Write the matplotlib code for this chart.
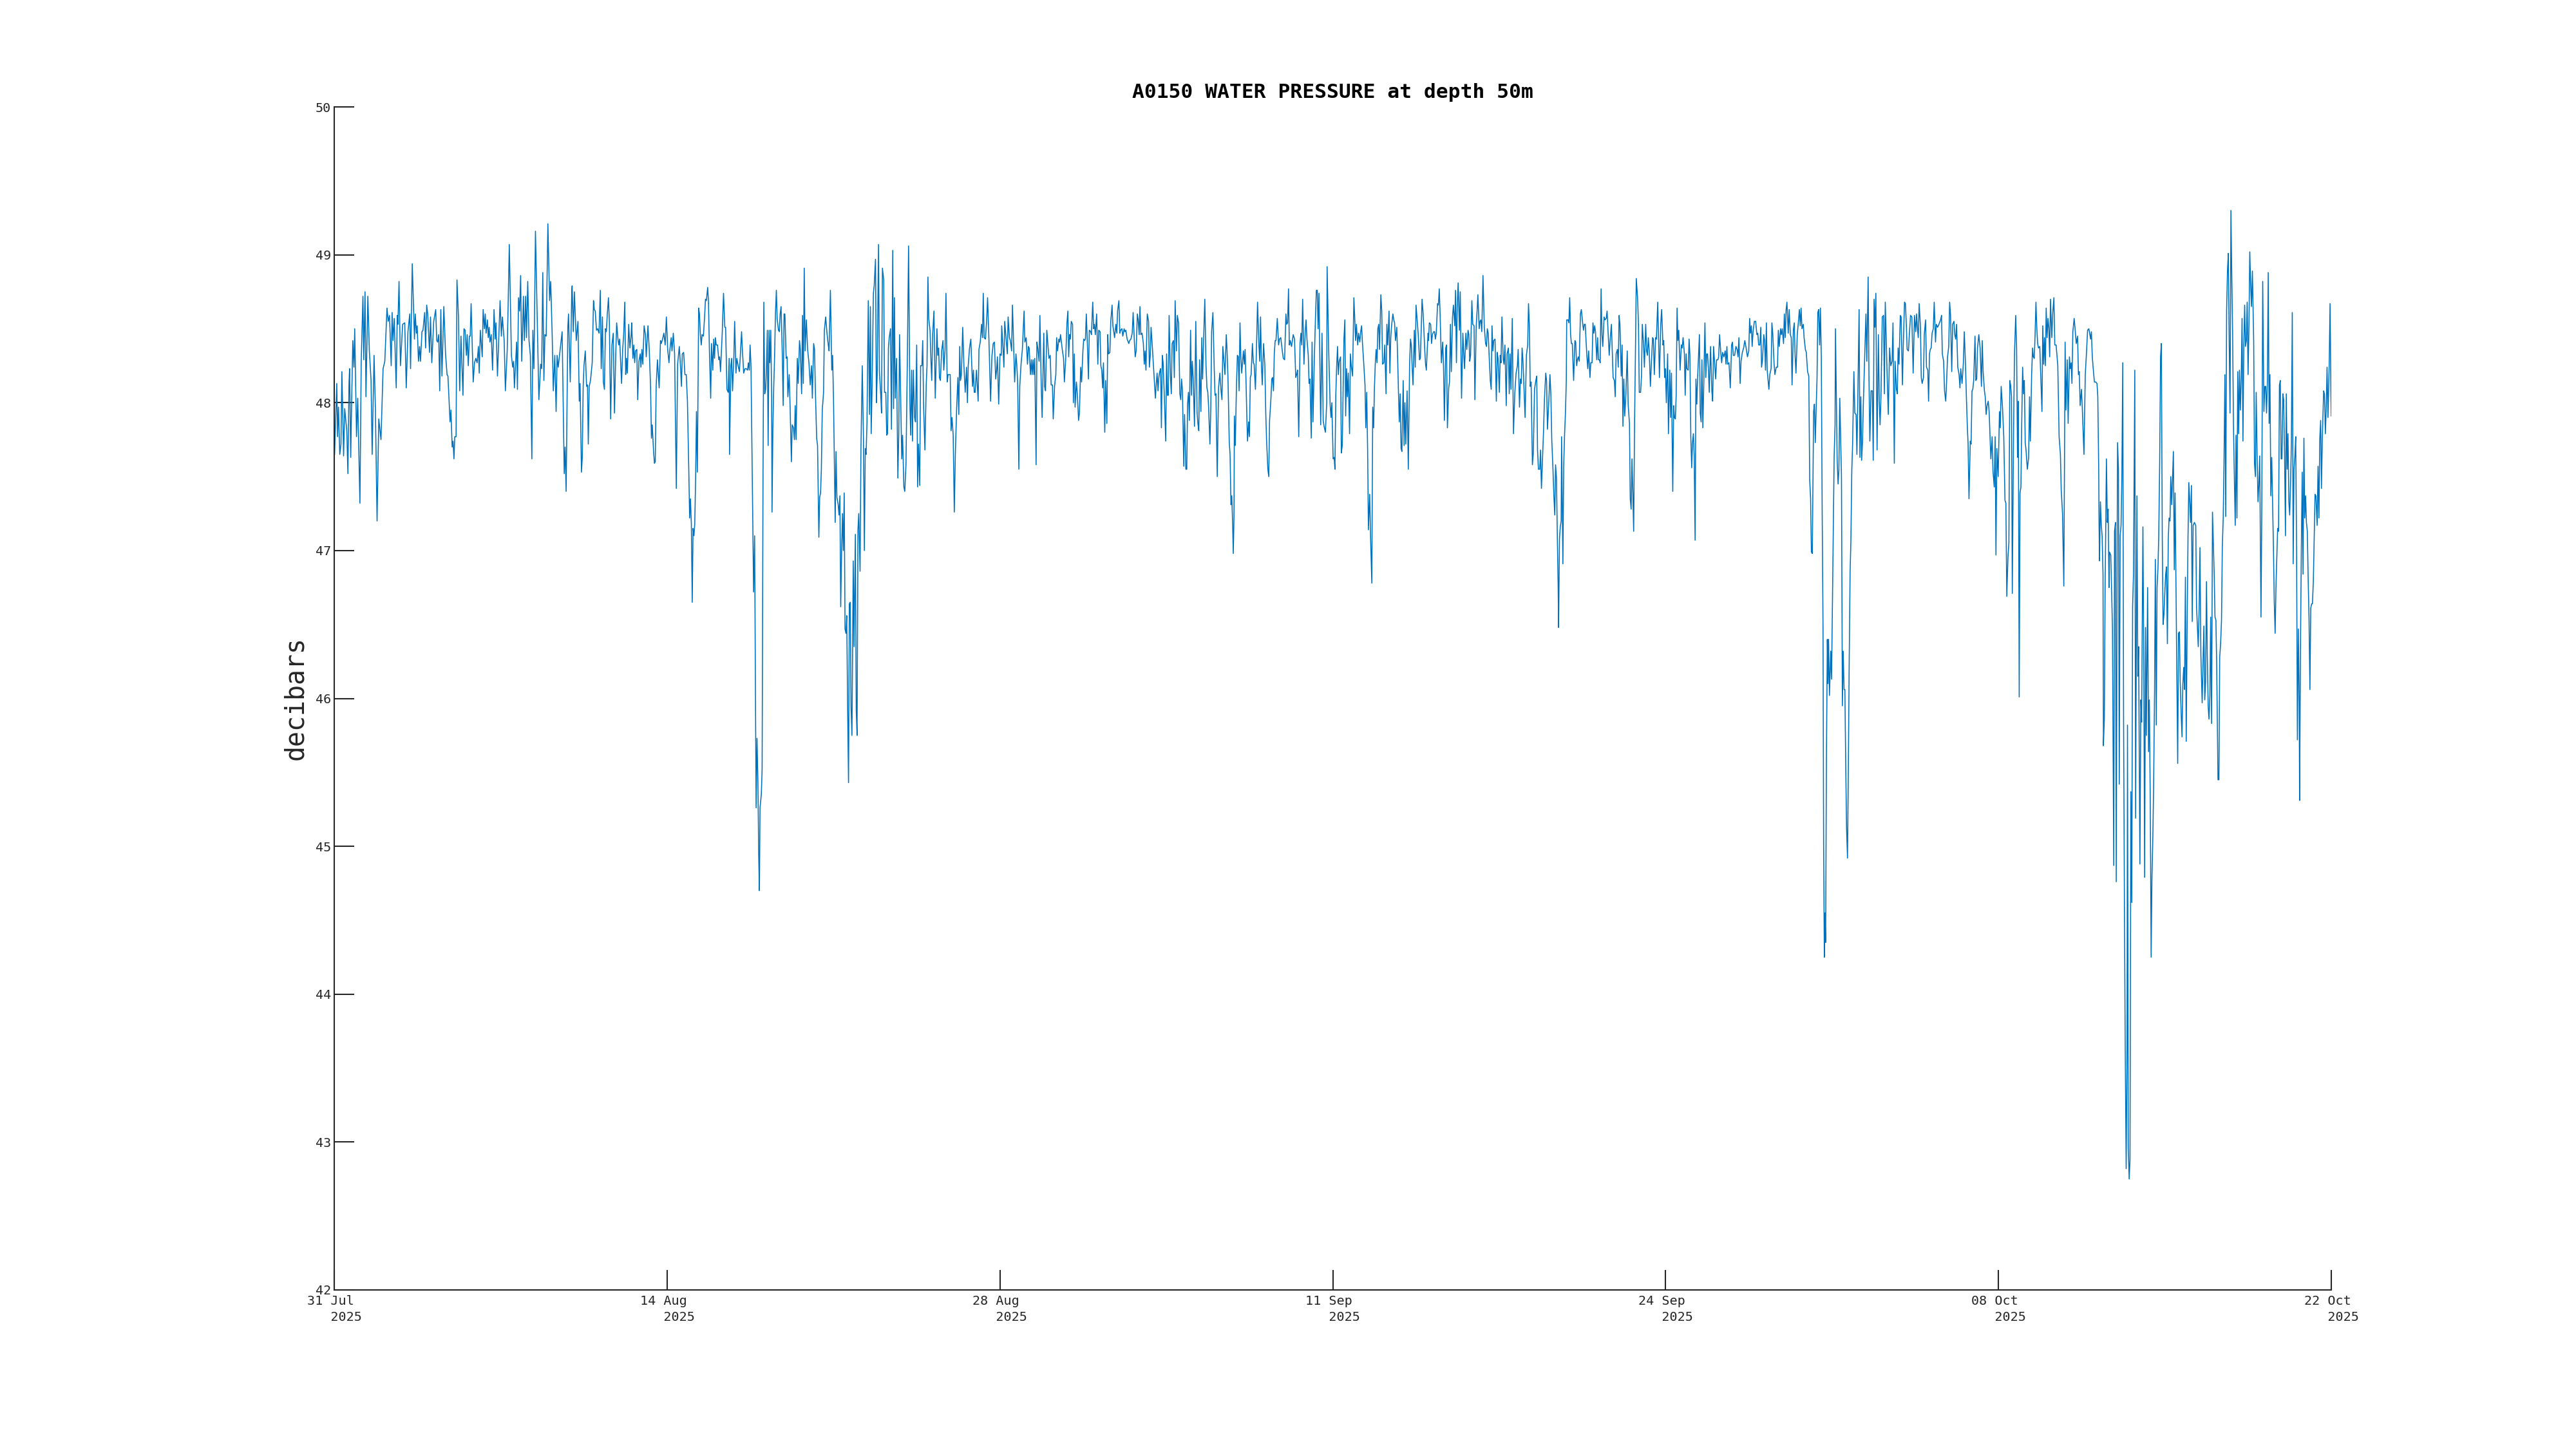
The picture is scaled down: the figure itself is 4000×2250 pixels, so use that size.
import matplotlib.pyplot as plt
import numpy as np

plt.rcParams['font.family'] = 'DejaVu Sans Mono'

title = 'A0150 WATER PRESSURE at depth 50m'
y_label = 'decibars'
tick_dates = ['31 Jul', '14 Aug', '28 Aug', '11 Sep', '24 Sep', '08 Oct', '22 Oct']
tick_year = '2025'
span_hours = 83 * 24          # 31 Jul 00:00 -> 22 Oct 00:00
y_ticks = [42, 43, 44, 45, 46, 47, 48, 49, 50]

# (hours since 31 Jul 2025 00:00, pressure in decibars)
seg_jul31_aug10 = [
    (0.2, 47.65), (2.4, 48.13), (3.2, 47.77), (4.1, 47.97), (5.4, 47.65), (6.6, 47.72), (7.5, 48.21), (9.2, 47.64),
    (10.3, 47.96), (12.4, 47.81), (13.5, 47.52), (14.6, 48.13), (15.2, 48.23), (16.3, 47.63), (17.3, 48.03), (18.4, 48.42),
    (19.5, 48.24), (20.3, 48.50), (22.1, 47.77), (23.3, 48.03), (25.5, 47.32), (26.8, 48.28), (28.5, 48.72), (29.3, 48.29),
    (30.6, 48.75), (31.5, 48.04), (33.4, 48.72), (34.9, 48.35), (36.6, 48.15), (37.7, 47.65), (39.6, 48.32), (40.9, 47.97),
    (42.6, 47.20), (44.3, 47.89), (46.5, 47.75), (48.6, 48.23), (50.3, 48.28), (52.5, 48.64), (53.7, 48.55), (55.0, 48.59),
    (56.7, 48.25), (57.6, 48.61), (58.5, 48.42), (59.7, 48.57), (61.7, 48.10), (62.7, 48.59), (63.4, 48.53), (64.5, 48.82),
    (65.9, 48.25), (68.1, 48.53), (70.2, 48.54), (71.7, 48.10), (73.4, 48.48), (75.2, 48.60), (76.0, 48.23), (77.7, 48.94),
    (79.9, 48.43), (80.7, 48.60), (81.8, 48.47), (82.6, 48.52), (83.9, 48.28), (85.0, 48.38), (85.9, 48.28), (87.4, 48.48),
    (88.4, 48.49), (90.1, 48.61), (91.0, 48.37), (92.1, 48.66), (93.1, 48.60), (94.9, 48.34), (95.9, 48.58), (97.2, 48.27),
    (99.1, 48.55), (101.1, 48.63), (102.1, 48.42), (103.0, 48.41), (104.1, 48.46), (105.1, 48.08), (106.2, 48.63), (107.3, 48.18),
    (109.2, 48.65), (110.9, 48.33), (112.4, 48.19), (113.3, 48.18), (115.4, 47.87), (116.3, 47.95), (117.5, 47.70), (118.4, 47.74),
    (119.3, 47.62), (120.1, 47.77), (121.4, 47.77), (122.3, 48.83), (123.8, 48.58), (125.0, 48.08), (126.3, 48.45), (128.3, 48.05),
    (129.3, 48.50), (130.4, 48.49), (131.7, 48.32), (132.5, 48.46), (133.6, 48.25), (134.7, 48.45), (135.5, 48.45), (136.4, 48.67),
    (138.5, 48.14), (139.8, 48.27), (141.1, 48.30), (142.4, 48.27), (143.7, 48.38), (144.5, 48.20), (145.6, 48.49), (147.5, 48.31),
    (148.4, 48.63), (149.7, 48.50), (150.5, 48.60), (151.4, 48.47), (152.7, 48.56), (153.5, 48.44), (154.4, 48.51), (155.2, 48.41),
    (156.5, 48.46), (157.8, 48.22), (159.3, 48.63), (160.4, 48.43), (161.2, 48.54), (162.7, 48.18), (165.3, 48.69), (166.6, 48.45),
    (167.6, 48.58), (169.4, 48.42), (170.6, 48.08), (172.4, 48.35), (173.2, 48.61), (174.5, 49.07), (176.6, 48.32), (177.9, 48.24),
    (178.8, 48.28), (179.6, 48.10), (181.8, 48.41), (182.6, 48.09), (183.7, 48.71), (184.8, 48.62), (185.8, 48.86), (186.9, 48.28),
    (188.6, 48.72), (189.5, 48.42), (190.8, 48.72), (191.6, 48.44), (192.9, 48.82), (194.2, 48.42), (195.5, 48.32), (197.0, 47.62),
    (198.0, 48.49), (199.1, 48.23), (200.6, 49.16), (202.3, 48.58), (204.0, 48.02), (205.8, 48.26), (206.8, 48.23), (207.9, 48.88),
    (209.0, 48.15), (210.0, 48.46), (211.3, 48.45), (213.0, 49.21), (214.7, 48.69), (215.8, 48.82), (217.3, 48.45), (218.4, 48.08),
    (219.9, 48.32), (221.2, 47.94), (222.2, 48.32), (223.3, 48.24), (224.6, 48.32), (227.2, 48.48), (229.3, 47.52), (230.2, 47.70),
    (231.2, 47.40), (232.9, 48.51), (233.6, 48.60), (235.3, 48.14), (236.8, 48.75), (237.2, 48.79), (238.3, 48.48), (239.4, 48.75),
    (241.3, 48.42), (243.0, 48.55), (244.3, 48.01), (245.1, 48.13),
]

seg_aug10_aug21 = [
    (246.5, 47.53), (247.3, 47.63), (248.2, 48.11), (249.0, 48.25), (250.3, 48.35), (251.6, 48.11), (252.5, 48.12), (253.3, 47.72),
    (254.2, 48.11), (255.5, 48.15), (257.2, 48.27), (258.5, 48.69), (259.3, 48.63), (260.2, 48.62), (261.5, 48.49), (262.7, 48.50),
    (264.0, 48.47), (265.3, 48.76), (266.2, 48.23), (267.4, 48.58), (268.3, 48.14), (269.4, 48.09), (270.4, 48.50), (271.3, 48.48),
    (272.2, 48.59), (273.4, 48.71), (274.3, 48.55), (275.6, 47.89), (276.9, 48.39), (278.2, 48.47), (279.4, 47.93), (280.7, 48.33),
    (281.6, 48.54), (282.9, 48.43), (283.7, 48.39), (284.6, 48.43), (286.5, 48.13), (287.6, 48.36), (288.6, 48.46), (289.7, 48.68),
    (290.6, 48.19), (291.4, 48.30), (292.3, 48.20), (293.6, 48.53), (294.8, 48.37), (296.1, 48.46), (296.6, 48.54), (297.8, 48.30),
    (298.7, 48.39), (299.6, 48.27), (300.4, 48.35), (301.7, 48.36), (302.6, 48.02), (303.8, 48.28), (305.1, 48.33), (305.8, 48.24),
    (306.8, 48.36), (307.7, 48.26), (309.0, 48.52), (310.3, 48.46), (311.1, 48.31), (312.8, 48.52), (314.1, 48.36), (315.4, 48.11),
    (316.3, 47.76), (317.1, 47.85), (318.4, 47.67), (319.3, 47.59), (320.1, 47.60), (321.0, 48.11), (322.3, 48.29), (324.0, 48.10),
    (325.3, 48.42), (326.1, 48.40), (327.4, 48.43), (328.7, 48.47), (330.0, 48.39), (331.2, 48.58), (332.5, 48.36), (333.8, 48.27),
    (334.7, 48.36), (336.0, 48.44), (336.8, 48.35), (338.1, 48.47), (339.4, 48.33), (341.1, 47.42), (342.4, 48.26), (344.1, 48.38),
    (345.4, 48.23), (346.2, 48.11), (347.1, 48.33), (348.4, 48.34), (349.7, 48.19), (351.0, 48.19), (352.2, 48.01), (353.5, 47.56),
    (354.4, 47.22), (355.2, 47.35), (356.1, 47.18), (357.0, 46.65), (357.8, 47.15), (358.7, 47.10), (359.5, 47.18), (360.4, 47.50),
    (361.2, 47.94), (362.1, 47.53), (363.4, 48.64), (364.2, 48.60), (365.1, 48.46), (366.0, 48.39), (366.8, 48.46), (368.1, 48.45),
    (369.4, 48.59), (370.2, 48.70), (371.1, 48.69), (372.4, 48.78), (373.2, 48.68), (374.1, 48.36), (375.4, 48.03), (376.2, 48.40),
    (377.5, 48.22), (378.4, 48.43), (379.2, 48.30), (380.1, 48.44), (380.9, 48.39), (382.2, 48.39), (383.5, 48.29), (384.3, 48.31),
    (385.2, 48.21), (386.9, 48.47), (388.2, 48.74), (389.5, 48.51), (390.3, 48.51), (391.6, 48.09), (392.9, 48.07), (393.8, 48.30),
    (394.2, 47.65), (395.5, 48.25), (396.3, 48.30), (397.2, 48.08), (398.5, 48.31), (399.3, 48.55), (400.6, 48.20), (401.5, 48.30),
    (402.8, 48.25), (404.0, 48.21), (404.9, 48.31), (406.2, 48.48), (407.0, 48.36), (408.3, 48.20), (409.6, 48.23), (410.9, 48.23),
    (412.2, 48.22), (413.0, 48.27), (413.9, 48.22), (414.7, 48.39), (415.6, 48.25), (416.9, 47.50), (418.2, 46.72), (419.2, 47.10),
    (419.9, 46.22), (420.7, 45.26), (421.6, 45.73), (422.5, 45.44), (423.3, 44.94), (424.0, 44.70), (424.6, 45.26), (425.9, 45.35),
    (426.7, 45.52), (427.6, 47.50), (428.4, 48.68), (429.3, 48.06), (430.2, 48.09), (431.0, 48.22), (431.9, 48.49), (432.7, 47.71),
    (433.6, 48.49), (434.4, 48.27), (435.3, 48.49), (436.2, 48.04), (436.6, 47.26), (437.4, 47.82), (438.3, 48.11), (439.1, 48.30),
    (440.0, 48.60), (440.9, 48.76), (441.7, 48.57), (443.0, 48.49), (443.9, 48.48), (444.7, 48.60), (445.6, 48.65), (446.9, 48.31),
    (447.7, 47.98), (448.6, 48.60), (449.4, 48.60), (450.7, 48.30), (451.6, 48.31), (452.4, 48.04), (453.7, 48.19), (454.6, 47.98),
    (455.9, 47.60), (456.7, 47.85), (458.0, 47.83), (458.9, 47.75), (459.7, 47.98), (460.6, 47.75), (461.8, 48.30), (462.7, 48.13),
    (464.0, 48.42), (464.8, 48.36), (466.1, 48.06), (467.0, 48.59), (467.8, 48.13), (468.7, 48.91), (469.6, 48.35), (470.8, 48.56),
    (472.1, 48.36), (473.4, 48.27), (474.7, 48.12), (476.0, 48.25), (476.8, 48.03), (478.1, 48.40), (479.0, 48.36), (479.8, 48.09),
    (481.1, 47.76), (482.0, 47.71), (483.3, 47.09), (484.1, 47.36), (485.0, 47.39), (485.8, 47.55), (486.7, 47.95), (488.0, 48.07),
    (488.8, 48.49), (490.1, 48.58), (491.4, 48.47), (492.7, 48.39), (493.5, 48.35), (494.8, 48.76),
]

seg_aug21_aug31 = [
    (496.2, 48.22), (497.0, 48.32), (497.9, 48.03), (498.7, 47.64), (499.6, 47.19), (500.4, 47.67), (501.3, 47.36), (502.6, 47.31),
    (503.4, 47.24), (504.3, 47.37), (505.1, 46.62), (506.0, 47.00), (506.9, 47.25), (507.7, 47.00), (508.6, 47.39), (509.4, 46.47),
    (510.3, 46.44), (511.1, 46.56), (512.0, 45.94), (512.9, 45.43), (513.7, 46.64), (514.6, 46.65), (515.4, 45.94), (516.3, 45.75),
    (517.6, 46.93), (518.4, 46.35), (519.7, 47.11), (520.6, 45.92), (521.4, 45.75), (522.3, 47.14), (523.1, 47.25), (524.4, 46.86),
    (525.3, 47.69), (526.6, 48.25), (527.8, 47.75), (528.7, 47.00), (529.6, 47.69), (530.4, 47.65), (531.3, 47.86), (532.6, 48.69),
    (533.8, 47.92), (534.7, 48.65), (535.5, 47.79), (536.4, 48.11), (537.7, 48.74), (538.5, 48.79), (539.8, 48.97), (540.7, 48.00),
    (541.5, 48.19), (542.8, 49.07), (543.7, 48.21), (545.0, 48.06), (545.8, 47.93), (546.7, 48.91), (548.0, 48.83), (548.8, 48.07),
    (550.1, 48.07), (551.0, 47.78), (551.8, 47.79), (552.7, 48.37), (553.5, 48.44), (554.8, 48.50), (555.7, 47.82), (557.0, 49.03),
    (557.8, 47.96), (558.7, 48.71), (559.5, 48.03), (560.8, 48.30), (562.1, 47.49), (563.0, 47.79), (563.8, 48.46), (566.0, 47.62),
    (566.8, 47.78), (568.1, 47.43), (569.0, 47.40), (570.2, 47.58), (571.5, 48.25), (572.8, 49.06), (574.1, 48.00), (574.9, 47.78),
    (575.8, 48.22), (576.7, 47.74), (577.5, 48.22), (578.8, 47.90), (579.7, 47.87), (580.9, 48.39), (581.8, 47.43), (582.7, 47.72),
    (583.9, 47.44), (584.8, 48.25), (586.1, 48.25), (586.9, 48.42), (587.8, 47.97), (589.1, 47.68), (590.4, 48.12), (591.2, 48.25),
    (592.1, 48.85), (592.9, 48.57), (594.2, 48.49), (595.1, 48.29), (595.9, 48.15), (596.8, 48.46), (598.1, 48.62), (599.4, 48.03),
    (600.2, 48.25), (601.1, 48.50), (601.9, 48.32), (602.8, 48.37), (603.6, 48.17), (604.5, 48.15), (605.8, 48.35), (607.1, 48.42),
    (607.9, 48.22), (609.2, 48.36), (610.1, 48.74), (611.3, 48.14), (612.2, 48.19), (613.5, 48.19), (614.3, 48.19), (615.2, 47.81),
    (616.1, 47.90), (617.3, 47.78), (618.4, 47.26), (619.5, 47.67), (620.8, 47.97), (622.0, 48.17), (622.9, 47.92), (623.8, 48.38),
    (624.6, 48.15), (625.5, 48.19), (626.8, 48.51), (628.0, 48.25), (629.3, 48.07), (630.6, 48.24), (631.5, 48.00), (632.3, 48.25),
    (633.6, 48.37), (634.9, 48.43), (635.7, 48.28), (636.6, 48.11), (637.5, 48.22), (638.3, 48.07), (639.2, 48.07), (640.5, 48.22),
    (642.2, 48.01), (643.0, 48.36), (644.3, 48.41), (645.6, 48.53), (646.5, 48.44), (647.3, 48.74), (648.2, 48.44), (649.5, 48.43),
    (650.7, 48.56), (651.6, 48.71), (652.9, 48.44), (654.6, 48.01), (655.9, 48.31), (657.2, 48.40), (658.4, 48.41), (659.7, 48.16),
    (660.6, 48.22), (661.4, 48.31), (662.7, 47.99), (664.0, 48.33), (665.3, 48.32), (665.7, 48.52), (667.0, 48.37), (667.9, 48.24),
    (668.7, 48.55), (670.0, 48.44), (671.3, 48.33), (672.1, 48.58), (673.4, 48.44), (674.3, 48.42), (675.6, 48.35), (676.4, 48.66),
    (677.3, 48.46), (678.6, 48.14), (679.9, 48.33), (680.7, 48.26), (681.6, 48.14), (682.8, 47.55), (683.7, 48.11), (685.0, 48.26),
    (686.3, 48.36), (688.0, 48.62), (688.8, 48.41), (690.1, 48.44), (691.4, 48.26), (692.3, 48.38), (693.1, 48.37), (694.4, 48.19),
    (695.3, 48.29), (696.1, 48.19), (697.0, 48.29), (697.8, 48.19), (698.7, 48.30), (700.0, 47.58), (700.8, 48.41), (701.7, 48.37),
    (703.0, 48.28), (703.8, 48.59), (705.1, 48.13), (706.0, 47.90), (707.7, 48.47), (708.5, 48.11), (709.4, 48.08), (710.7, 48.49),
    (711.5, 48.42), (712.8, 48.30), (714.1, 48.32), (715.0, 48.12), (716.3, 48.12), (717.1, 47.89), (718.4, 48.11), (719.7, 48.19),
    (720.5, 48.44), (721.4, 48.35), (722.7, 48.43), (723.5, 48.41), (724.4, 48.46), (726.1, 48.36), (727.4, 48.30), (728.2, 48.14),
    (729.5, 48.29), (730.8, 48.54), (731.7, 48.62), (732.5, 48.31), (733.4, 48.46), (734.2, 48.43), (735.1, 48.55), (736.4, 48.53),
    (737.2, 48.00), (738.1, 48.33), (738.9, 47.97), (740.2, 48.14), (741.1, 48.06), (742.4, 47.88), (743.2, 47.93), (744.5, 48.24),
    (745.4, 48.14),
]

seg_aug31_sep11 = [
    (746.7, 48.35), (747.5, 48.43), (748.4, 48.42), (749.2, 48.43), (750.1, 48.60), (751.4, 48.35), (752.2, 48.16), (753.1, 48.49),
    (754.4, 48.48), (755.2, 48.46), (756.5, 48.68), (757.4, 48.50), (758.2, 48.53), (759.1, 48.46), (760.4, 48.60), (761.6, 48.26),
    (762.5, 48.49), (763.8, 48.48), (764.6, 48.25), (765.5, 48.22), (766.4, 48.10), (767.2, 48.27), (768.5, 47.80), (769.4, 48.15),
    (770.6, 47.86), (771.5, 48.46), (772.3, 48.33), (773.6, 48.34), (774.5, 48.55), (775.8, 48.66), (776.6, 48.52), (777.5, 48.48),
    (778.3, 48.44), (779.6, 48.53), (780.5, 48.47), (781.3, 48.62), (782.6, 48.69), (783.5, 48.47), (784.3, 48.49), (785.6, 48.50),
    (786.5, 48.45), (787.8, 48.50), (788.6, 48.48), (789.5, 48.49), (790.8, 48.43), (792.5, 48.40), (793.3, 48.42), (794.6, 48.43),
    (795.9, 48.47), (796.8, 48.61), (798.0, 48.42), (798.9, 48.31), (799.8, 48.35), (801.0, 48.60), (801.9, 48.56), (802.8, 48.46),
    (803.6, 48.65), (804.5, 48.46), (805.7, 48.47), (807.0, 48.40), (807.9, 48.26), (808.7, 48.35), (809.6, 48.22), (810.9, 48.60),
    (812.2, 48.55), (813.0, 48.24), (813.9, 48.32), (814.7, 48.51), (816.0, 48.37), (817.3, 48.22), (819.0, 48.03), (819.9, 48.13),
    (820.7, 48.20), (821.6, 48.08), (822.4, 48.17), (823.3, 48.21), (824.2, 48.23), (825.0, 47.83), (825.9, 48.32), (826.7, 48.27),
    (828.0, 48.03), (829.3, 47.74), (830.2, 48.33), (831.0, 48.05), (831.9, 48.05), (832.7, 48.59), (834.0, 48.18), (834.9, 48.06),
    (835.7, 48.40), (837.0, 48.42), (837.9, 48.17), (838.7, 48.69), (840.0, 48.35), (840.9, 48.59), (842.1, 48.54), (843.4, 48.06),
    (844.3, 48.02), (845.1, 48.16), (846.0, 48.08), (847.3, 47.57), (848.1, 47.92), (849.4, 47.55), (850.3, 47.55), (851.1, 47.99),
    (852.0, 48.07), (852.9, 47.88), (854.1, 48.49), (855.0, 48.05), (855.8, 48.28), (856.7, 48.17), (858.0, 47.84), (859.3, 48.55),
    (860.6, 47.93), (861.4, 47.86), (862.3, 47.81), (863.1, 48.29), (864.4, 47.94), (865.3, 48.44), (866.1, 48.16), (867.0, 48.40),
    (868.3, 48.70), (869.5, 48.25), (870.4, 48.10), (871.3, 48.07), (872.1, 47.97), (873.4, 47.72), (874.3, 47.97), (875.1, 48.48),
    (876.4, 48.61), (877.7, 48.23), (878.5, 48.05), (879.4, 48.06), (880.7, 47.50), (882.0, 48.10), (883.3, 48.20), (884.5, 48.08),
    (885.4, 48.02), (886.3, 48.38), (887.5, 48.27), (888.4, 48.19), (889.7, 48.46), (890.5, 48.35), (891.4, 48.17), (892.7, 47.73),
    (893.5, 47.65), (894.4, 47.31), (895.2, 47.37), (896.1, 47.17), (896.7, 46.98), (897.4, 47.23), (897.8, 47.91), (898.7, 47.71),
    (899.9, 48.12), (900.8, 48.32), (901.7, 48.31), (902.5, 48.08), (903.4, 48.54), (904.2, 48.32), (905.1, 48.20), (906.0, 48.28),
    (906.8, 48.35), (907.7, 48.26), (908.5, 48.36), (909.4, 48.15), (910.2, 47.91), (910.9, 47.74), (912.0, 47.87), (912.8, 47.77),
    (913.7, 48.17), (914.5, 48.19), (915.8, 48.40), (916.7, 48.27), (917.5, 48.26), (918.8, 48.09), (920.1, 48.44), (920.9, 48.68),
    (922.2, 48.40), (923.1, 48.28), (923.9, 48.58), (924.8, 48.25), (925.6, 48.12), (926.9, 48.40), (928.2, 48.25), (929.1, 47.93),
    (929.9, 47.75), (931.2, 47.55), (932.1, 47.50), (932.9, 47.88), (934.2, 48.02), (935.1, 48.16), (935.9, 48.17), (936.8, 48.08),
    (937.6, 48.33), (938.5, 48.42), (939.3, 48.42), (940.6, 48.57), (941.9, 48.39), (942.8, 48.43), (944.1, 48.44), (944.9, 48.39),
    (945.8, 48.34), (946.6, 48.30), (947.9, 48.29), (949.2, 48.60), (950.0, 48.53), (950.9, 48.54), (951.8, 48.77), (952.6, 48.39),
    (953.5, 48.42), (954.8, 48.38), (956.5, 48.46), (957.8, 48.43), (959.0, 48.17), (959.9, 48.19), (960.8, 48.22), (962.0, 47.77),
    (963.3, 48.40), (964.2, 48.47), (965.0, 48.39), (965.9, 48.70), (967.2, 48.26), (968.5, 48.48), (969.3, 48.56), (970.2, 48.43),
    (971.5, 48.32), (972.3, 48.13), (973.2, 48.16), (974.5, 47.76), (975.3, 48.41), (976.2, 47.87), (977.5, 48.28), (978.7, 48.58),
    (979.6, 48.76), (980.5, 48.76), (981.3, 48.50), (982.2, 48.74), (983.9, 47.85), (985.2, 48.47), (986.4, 47.88), (987.3, 47.84),
    (988.6, 47.80), (989.9, 48.00), (990.3, 48.92), (992.0, 48.32), (993.3, 47.99), (994.2, 47.90), (995.0, 48.00), (996.3, 47.62),
]

seg_sep11_sep21 = [
    (997.3, 47.63), (998.1, 47.55), (999.0, 48.06), (999.8, 48.24), (1000.7, 48.38), (1001.5, 48.19), (1002.4, 48.28), (1003.7, 48.31),
    (1004.5, 47.66), (1005.4, 47.71), (1006.2, 48.06), (1007.1, 48.43), (1008.0, 48.56), (1008.8, 47.91), (1009.7, 48.23), (1010.5, 48.04),
    (1011.4, 48.20), (1012.7, 47.79), (1013.5, 48.33), (1014.4, 48.25), (1015.7, 48.18), (1017.0, 48.71), (1017.8, 48.58), (1018.7, 48.42),
    (1019.5, 48.53), (1020.8, 48.39), (1021.7, 48.47), (1022.9, 48.41), (1023.8, 48.48), (1024.7, 48.52), (1025.5, 48.41), (1026.8, 48.27),
    (1028.1, 48.12), (1028.9, 47.83), (1029.8, 48.07), (1030.7, 47.69), (1031.5, 47.14), (1032.8, 47.38), (1033.7, 47.08), (1034.9, 46.78),
    (1035.8, 47.97), (1036.7, 47.83), (1037.5, 48.10), (1038.4, 48.27), (1039.2, 48.36), (1040.1, 48.27), (1040.9, 48.50), (1041.8, 48.53),
    (1042.6, 48.36), (1043.9, 48.73), (1044.8, 48.62), (1045.6, 48.26), (1046.9, 48.27), (1047.8, 48.39), (1049.1, 48.06), (1049.9, 48.53),
    (1050.8, 48.39), (1052.1, 48.62), (1052.9, 48.20), (1053.8, 48.44), (1054.6, 48.52), (1055.9, 48.60), (1056.8, 48.56), (1057.6, 48.54),
    (1058.5, 48.42), (1059.8, 48.51), (1060.7, 48.29), (1061.5, 48.07), (1062.3, 47.87), (1063.2, 48.06), (1064.1, 47.69), (1064.9, 47.67),
    (1066.2, 48.15), (1067.1, 47.71), (1067.9, 48.00), (1068.8, 47.72), (1070.1, 48.08), (1071.3, 47.55), (1072.6, 48.27), (1073.5, 48.43),
    (1074.3, 48.39), (1075.2, 48.23), (1076.0, 48.12), (1077.3, 48.49), (1078.2, 48.24), (1079.0, 48.66), (1080.3, 48.54), (1081.2, 48.46),
    (1082.5, 48.29), (1083.3, 48.30), (1084.2, 48.50), (1085.0, 48.70), (1085.9, 48.62), (1086.8, 48.50), (1087.6, 48.37), (1088.5, 48.26),
    (1089.3, 48.22), (1090.2, 48.36), (1091.0, 48.47), (1091.5, 48.42), (1092.3, 48.54), (1093.6, 48.53), (1094.5, 48.40), (1095.3, 48.46),
    (1096.6, 48.48), (1097.5, 48.48), (1098.3, 48.43), (1099.2, 48.47), (1100.5, 48.67), (1101.3, 48.66), (1102.2, 48.77), (1103.0, 48.60),
    (1104.3, 48.27), (1105.6, 48.41), (1106.4, 48.25), (1107.3, 47.88), (1108.6, 48.37), (1109.4, 48.39), (1110.3, 47.83), (1111.6, 48.10),
    (1112.4, 48.14), (1113.3, 48.53), (1114.2, 48.21), (1115.4, 48.58), (1116.3, 48.66), (1117.6, 48.52), (1118.4, 48.76), (1119.3, 48.27),
    (1120.1, 48.65), (1121.0, 48.81), (1122.3, 48.49), (1123.1, 48.75), (1124.4, 48.03), (1125.7, 48.47), (1126.6, 48.33), (1127.4, 48.23),
    (1128.7, 48.47), (1129.6, 48.36), (1130.9, 48.49), (1131.7, 48.46), (1132.6, 48.28), (1133.4, 48.32), (1134.7, 48.69), (1135.6, 48.53),
    (1136.9, 48.52), (1137.7, 48.02), (1139.0, 48.51), (1139.9, 48.62), (1140.7, 48.73), (1142.0, 48.50), (1142.8, 48.55), (1143.7, 48.56),
    (1144.6, 48.48), (1145.8, 48.86), (1147.1, 48.51), (1148.4, 48.40), (1149.3, 48.38), (1150.1, 48.50), (1151.0, 48.47), (1152.3, 48.26),
    (1153.1, 48.15), (1154.0, 48.09), (1154.8, 48.52), (1155.7, 48.35), (1156.5, 48.42), (1157.8, 48.43), (1159.1, 48.01), (1160.0, 48.34),
    (1160.8, 48.30), (1162.1, 48.07), (1163.0, 48.32), (1163.8, 48.27), (1164.7, 48.58), (1166.0, 48.29), (1166.8, 48.26), (1167.7, 48.39),
    (1169.0, 47.98), (1169.8, 48.33), (1171.1, 48.37), (1172.0, 48.06), (1172.8, 48.33), (1173.7, 48.09), (1175.0, 48.57), (1176.2, 47.79),
    (1177.5, 48.06), (1178.8, 48.20), (1180.1, 48.25), (1180.9, 48.36), (1182.2, 47.97), (1183.1, 48.16), (1184.0, 48.13), (1184.8, 48.37),
    (1185.7, 48.28), (1186.5, 48.14), (1187.8, 47.90), (1189.1, 48.32), (1190.4, 48.39), (1191.2, 48.67), (1192.1, 48.52), (1192.9, 48.11),
    (1193.8, 48.14), (1195.1, 47.58), (1196.0, 47.66), (1197.2, 48.09), (1198.5, 48.15), (1199.4, 48.18), (1200.2, 47.68), (1201.1, 47.55),
    (1202.4, 47.55), (1203.2, 47.68), (1204.1, 47.42), (1204.9, 47.57), (1206.2, 47.81), (1207.1, 48.02), (1208.4, 48.20), (1209.2, 48.15),
    (1210.1, 47.82), (1211.4, 48.00), (1212.6, 48.19), (1213.5, 48.06), (1214.4, 47.75), (1215.6, 47.55), (1216.5, 47.37), (1217.4, 47.24),
    (1218.2, 47.58), (1219.1, 47.49), (1219.9, 47.12), (1220.8, 46.75), (1221.2, 46.48), (1222.1, 47.08), (1222.9, 47.16), (1223.8, 47.20),
    (1224.2, 47.77), (1225.5, 46.91), (1226.3, 47.57), (1227.2, 47.79), (1228.1, 47.94), (1228.9, 48.15), (1229.3, 48.56), (1230.6, 48.56),
    (1231.5, 48.54), (1232.3, 48.71), (1233.2, 48.46), (1234.0, 48.40), (1234.9, 48.40), (1236.2, 48.15), (1237.5, 48.42), (1238.3, 48.41),
    (1239.2, 48.25), (1240.0, 48.29), (1240.9, 48.31), (1241.8, 48.28), (1243.0, 48.60), (1243.9, 48.63), (1245.2, 48.54), (1246.0, 48.49),
]

seg_sep21_oct02 = [
    (1246.9, 48.53), (1247.8, 48.53), (1248.6, 48.42), (1249.5, 48.31), (1250.3, 48.23), (1251.2, 48.35), (1252.5, 48.17), (1253.3, 48.27),
    (1254.6, 48.27), (1255.5, 48.54), (1256.3, 48.47), (1257.2, 48.52), (1258.0, 48.48), (1259.3, 48.29), (1260.2, 48.44), (1261.0, 48.29),
    (1261.9, 48.29), (1262.7, 48.27), (1263.6, 48.77), (1264.5, 48.46), (1265.3, 48.38), (1266.6, 48.58), (1267.5, 48.56), (1268.7, 48.57),
    (1269.6, 48.62), (1270.9, 48.43), (1271.7, 48.32), (1272.6, 48.42), (1273.9, 48.53), (1274.7, 48.36), (1275.6, 48.17), (1276.9, 48.15),
    (1277.7, 48.04), (1278.6, 48.33), (1279.9, 48.36), (1280.7, 48.24), (1281.6, 48.59), (1282.4, 48.53), (1283.7, 48.18), (1284.6, 48.39),
    (1285.4, 47.84), (1286.3, 48.16), (1287.2, 47.91), (1288.4, 48.06), (1289.7, 48.35), (1290.6, 47.99), (1291.9, 47.86), (1292.7, 47.35),
    (1293.6, 47.28), (1294.4, 47.62), (1295.3, 47.38), (1296.1, 47.13), (1297.0, 47.86), (1297.9, 48.35), (1298.7, 48.84), (1300.0, 48.71),
    (1300.9, 48.53), (1301.7, 48.07), (1303.0, 48.07), (1303.9, 48.18), (1304.7, 48.53), (1306.0, 48.39), (1306.8, 48.24), (1308.1, 48.53),
    (1309.0, 48.35), (1309.8, 48.32), (1310.7, 48.44), (1311.6, 48.35), (1312.8, 48.11), (1313.7, 48.26), (1315.0, 48.44), (1315.8, 48.43),
    (1316.7, 48.19), (1318.0, 48.44), (1318.8, 48.43), (1320.1, 48.68), (1321.0, 48.42), (1321.8, 48.17), (1323.1, 48.53), (1324.0, 48.63),
    (1325.3, 48.39), (1326.1, 48.42), (1327.0, 48.17), (1327.8, 48.23), (1328.7, 48.00), (1330.0, 48.33), (1330.8, 47.79), (1332.1, 48.22),
    (1333.0, 47.90), (1333.8, 48.20), (1335.1, 47.40), (1336.0, 47.98), (1336.8, 47.90), (1337.7, 47.89), (1338.5, 48.05), (1339.4, 48.64),
    (1340.2, 48.42), (1341.1, 48.49), (1342.4, 48.22), (1343.7, 48.39), (1344.5, 48.37), (1345.4, 48.44), (1346.7, 48.33), (1347.5, 48.05),
    (1348.4, 48.33), (1349.2, 48.23), (1350.5, 48.22), (1351.4, 48.43), (1352.2, 48.32), (1353.1, 47.77), (1354.0, 47.56), (1354.8, 47.73),
    (1355.7, 47.79), (1356.5, 47.64), (1357.4, 47.07), (1358.2, 48.16), (1359.1, 47.99), (1359.9, 48.17), (1360.8, 48.32), (1361.7, 48.46),
    (1362.5, 47.93), (1363.4, 47.87), (1364.2, 48.29), (1365.1, 47.83), (1365.9, 48.08), (1367.2, 48.54), (1368.1, 48.17), (1368.9, 48.33),
    (1369.8, 48.33), (1370.7, 48.22), (1371.5, 48.07), (1372.8, 48.38), (1374.1, 48.08), (1374.9, 48.01), (1375.8, 48.38), (1377.1, 48.24),
    (1377.9, 48.16), (1378.8, 48.29), (1380.1, 48.29), (1380.9, 48.31), (1381.8, 48.46), (1383.1, 48.33), (1383.9, 48.27), (1384.8, 48.34),
    (1386.1, 48.31), (1387.4, 48.35), (1388.2, 48.26), (1389.1, 48.38), (1389.9, 48.26), (1391.2, 48.27), (1392.5, 48.10), (1393.8, 48.39),
    (1394.6, 48.41), (1395.5, 48.32), (1396.8, 48.32), (1398.1, 48.38), (1399.3, 48.36), (1400.2, 48.31), (1401.1, 48.44), (1402.3, 48.13),
    (1403.2, 48.28), (1404.5, 48.34), (1405.8, 48.37), (1407.0, 48.42), (1408.3, 48.37), (1409.6, 48.31), (1410.9, 48.35), (1411.8, 48.57),
    (1412.6, 48.47), (1413.5, 48.52), (1414.3, 48.38), (1415.2, 48.48), (1416.5, 48.55), (1417.8, 48.55), (1419.0, 48.46), (1419.9, 48.47),
    (1420.8, 48.39), (1422.0, 48.39), (1422.9, 48.51), (1423.7, 48.24), (1424.6, 48.29), (1425.9, 48.46), (1426.7, 48.42), (1427.6, 48.22),
    (1428.5, 48.54), (1429.3, 48.22), (1430.2, 48.15), (1431.0, 48.09), (1431.9, 48.19), (1433.2, 48.23), (1434.0, 48.54), (1434.9, 48.46),
    (1436.2, 48.26), (1437.0, 48.19), (1438.3, 48.24), (1439.6, 48.24), (1440.4, 48.49), (1441.3, 48.38), (1442.6, 48.50), (1443.4, 48.46),
    (1444.3, 48.50), (1445.6, 48.40), (1446.4, 48.60), (1447.3, 48.44), (1448.2, 48.63), (1449.0, 48.68), (1450.3, 48.47), (1451.2, 48.63),
    (1452.4, 48.46), (1453.3, 48.44), (1454.1, 48.12), (1455.4, 48.49), (1456.3, 48.54), (1457.1, 48.33), (1458.0, 48.20), (1459.3, 48.46),
    (1460.6, 48.56), (1461.4, 48.63), (1462.3, 48.52), (1463.1, 48.64), (1464.0, 48.50), (1465.3, 48.53), (1466.1, 48.44), (1467.4, 48.36),
    (1468.3, 48.34), (1469.6, 48.21), (1470.8, 48.18), (1471.7, 47.48), (1472.6, 47.35), (1473.4, 46.99), (1474.3, 46.98), (1475.6, 47.94),
    (1476.4, 47.99), (1477.3, 47.73), (1478.1, 47.95), (1479.0, 48.16), (1479.8, 48.61), (1480.7, 48.63), (1481.6, 48.39), (1482.4, 48.64),
    (1483.3, 48.30), (1484.1, 47.31), (1485.0, 46.48), (1485.6, 45.00), (1486.3, 44.25), (1486.9, 44.55), (1487.6, 44.35), (1488.4, 45.60),
    (1489.3, 46.40), (1489.9, 46.10), (1490.5, 46.40), (1491.4, 46.02), (1492.7, 46.32), (1493.5, 46.13), (1495.3, 47.19), (1496.1, 47.64),
    (1497.0, 47.85),
]

seg_oct02_oct12 = [
    (1497.4, 48.50), (1498.3, 48.04), (1499.1, 47.61), (1500.0, 47.45), (1500.8, 47.54), (1501.7, 48.03), (1502.5, 47.79), (1503.4, 47.50),
    (1504.3, 45.95), (1505.1, 46.32), (1506.0, 46.06), (1506.8, 46.06), (1507.7, 45.52), (1508.5, 45.12), (1509.4, 44.92), (1510.2, 45.48),
    (1511.1, 46.24), (1512.0, 46.85), (1512.8, 47.07), (1513.7, 47.54), (1514.5, 47.72), (1515.8, 48.21), (1516.7, 47.93), (1518.0, 47.92),
    (1518.8, 47.65), (1519.7, 48.03), (1521.0, 48.63), (1521.8, 47.63), (1522.7, 48.04), (1523.5, 47.61), (1524.4, 47.74), (1525.2, 47.99),
    (1526.5, 48.30), (1527.8, 48.60), (1528.7, 48.28), (1530.0, 48.85), (1530.8, 48.19), (1531.7, 47.74), (1532.9, 48.08), (1534.2, 48.08),
    (1535.1, 47.61), (1535.9, 48.70), (1536.8, 48.51), (1537.7, 48.74), (1538.9, 47.68), (1540.2, 48.46), (1541.1, 48.01), (1541.9, 47.85),
    (1542.8, 48.04), (1544.1, 48.58), (1545.4, 48.59), (1546.2, 48.06), (1547.1, 48.68), (1547.9, 48.46), (1549.2, 48.12), (1550.1, 47.92),
    (1551.4, 48.37), (1552.6, 48.25), (1553.9, 48.28), (1554.8, 48.54), (1556.1, 47.59), (1556.9, 48.28), (1558.2, 48.09), (1559.1, 48.06),
    (1559.9, 48.37), (1560.8, 48.26), (1562.1, 48.59), (1562.9, 48.58), (1564.2, 48.12), (1565.1, 48.40), (1566.3, 48.68), (1567.2, 48.67),
    (1568.1, 48.53), (1568.9, 48.36), (1570.2, 48.35), (1571.1, 48.46), (1572.3, 48.59), (1573.6, 48.58), (1574.9, 48.20), (1576.2, 48.59),
    (1577.5, 48.48), (1578.3, 48.60), (1579.2, 48.50), (1580.0, 48.44), (1580.9, 48.67), (1582.2, 48.51), (1583.0, 48.17), (1583.9, 48.13),
    (1585.2, 48.17), (1586.0, 48.46), (1587.3, 48.56), (1588.2, 48.24), (1589.5, 48.22), (1590.3, 48.01), (1591.2, 48.33), (1592.0, 48.36),
    (1592.9, 48.37), (1593.8, 48.47), (1595.0, 48.50), (1595.9, 48.68), (1597.2, 48.41), (1598.0, 48.53), (1599.3, 48.51), (1600.6, 48.53),
    (1602.3, 48.56), (1603.2, 48.59), (1604.0, 48.33), (1605.3, 48.28), (1606.2, 48.08), (1607.4, 48.01), (1608.3, 48.15), (1609.2, 48.31),
    (1610.4, 48.38), (1611.3, 48.68), (1612.2, 48.59), (1613.4, 48.21), (1614.3, 48.53), (1615.6, 48.55), (1616.4, 48.46), (1617.3, 48.43),
    (1618.2, 48.53), (1619.4, 48.24), (1620.7, 48.19), (1621.6, 48.10), (1622.4, 48.23), (1623.7, 48.13), (1625.0, 48.27), (1625.9, 48.48),
    (1627.1, 48.26), (1628.0, 48.04), (1628.9, 47.85), (1629.7, 47.72), (1630.6, 47.35), (1631.9, 47.74), (1632.7, 47.72), (1633.6, 48.08),
    (1634.4, 48.09), (1635.3, 48.15), (1636.6, 48.45), (1637.4, 48.15), (1638.3, 48.16), (1639.1, 48.37), (1640.4, 48.46), (1641.7, 48.37),
    (1643.0, 48.11), (1643.8, 48.42), (1644.7, 48.21), (1646.0, 48.08), (1646.8, 48.04), (1647.7, 47.92), (1648.6, 47.98), (1649.8, 48.01),
    (1650.7, 47.94), (1651.6, 47.77), (1652.4, 47.62), (1653.7, 47.77), (1654.5, 47.54), (1655.8, 47.43), (1656.7, 47.77), (1657.5, 46.97),
    (1658.4, 47.69), (1659.7, 47.50), (1661.0, 47.94), (1661.8, 47.83), (1662.7, 48.11), (1664.0, 47.97), (1665.3, 47.77), (1666.5, 47.34),
    (1667.4, 47.32), (1668.3, 46.69), (1669.5, 46.96), (1670.4, 47.05), (1671.3, 48.15), (1672.1, 48.12), (1673.0, 48.04), (1673.8, 46.71),
    (1675.1, 47.83), (1676.0, 48.33), (1677.2, 48.59), (1678.1, 48.37), (1679.0, 47.63), (1679.8, 48.01), (1680.7, 46.01), (1681.5, 47.39),
    (1682.4, 47.43), (1683.2, 47.86), (1684.1, 48.24), (1685.0, 48.06), (1685.8, 48.15), (1686.7, 47.73), (1687.5, 47.68), (1688.8, 47.55),
    (1690.1, 47.63), (1691.0, 48.04), (1691.8, 47.74), (1693.1, 48.19), (1694.0, 48.37), (1694.8, 48.31), (1695.7, 48.30), (1696.5, 48.45),
    (1697.4, 48.68), (1698.2, 48.51), (1699.1, 48.40), (1699.9, 48.37), (1701.2, 48.38), (1702.5, 48.12), (1703.4, 47.94), (1704.2, 48.52),
    (1705.1, 48.26), (1705.9, 48.44), (1706.8, 48.25), (1707.6, 48.64), (1708.5, 48.44), (1709.4, 48.57), (1710.2, 48.51), (1711.1, 48.31),
    (1711.9, 48.70), (1713.2, 48.44), (1714.1, 48.60), (1715.3, 48.71), (1716.2, 48.39), (1717.5, 48.39), (1719.2, 48.25), (1720.5, 47.77),
    (1721.8, 47.65), (1722.6, 47.41), (1723.9, 47.25), (1725.2, 46.76), (1726.5, 48.41), (1727.3, 47.95), (1728.6, 48.29), (1729.5, 47.86),
    (1730.8, 48.31), (1731.6, 48.23), (1732.5, 48.27), (1733.3, 48.13), (1734.2, 48.48), (1735.5, 48.57), (1736.3, 48.51), (1737.6, 48.40),
    (1738.9, 48.45), (1739.8, 48.19), (1740.6, 48.21), (1741.5, 47.98), (1742.8, 48.09), (1743.6, 47.97), (1745.3, 47.65), (1746.6, 48.19),
    (1747.9, 48.35),
]

seg_oct12_oct22 = [
    (1748.9, 48.49), (1750.1, 48.50), (1751.0, 48.47), (1751.9, 48.43), (1752.7, 48.48), (1753.6, 48.31), (1754.4, 48.24), (1755.7, 48.14),
    (1757.0, 48.14), (1758.3, 48.13), (1759.1, 48.04), (1760.0, 47.55), (1760.4, 47.15), (1760.8, 46.93), (1761.7, 47.33), (1762.6, 47.17),
    (1763.4, 47.10), (1764.3, 46.84), (1764.7, 45.68), (1765.6, 45.86), (1766.4, 46.75), (1767.3, 47.33), (1767.7, 47.62), (1768.6, 47.19),
    (1769.4, 47.28), (1770.3, 46.75), (1770.7, 46.99), (1772.0, 46.97), (1772.8, 46.75), (1773.7, 46.48), (1775.0, 44.87), (1775.8, 47.13),
    (1776.7, 47.19), (1777.5, 44.76), (1778.4, 47.04), (1778.8, 47.73), (1779.7, 47.55), (1780.5, 45.42), (1781.4, 47.10), (1782.3, 47.17),
    (1783.1, 47.50), (1784.0, 48.27), (1784.8, 45.86), (1785.7, 44.53), (1786.5, 43.59), (1787.4, 42.82), (1788.3, 43.64), (1788.7, 45.82),
    (1789.5, 42.97), (1790.4, 42.75), (1791.2, 42.88), (1792.1, 45.37), (1793.0, 44.62), (1793.8, 46.62), (1794.7, 46.84), (1796.0, 48.22),
    (1796.8, 45.19), (1798.1, 47.37), (1799.0, 46.15), (1799.8, 46.35), (1801.1, 44.88), (1802.0, 45.99), (1802.8, 45.84), (1804.1, 47.16),
    (1805.0, 46.22), (1805.8, 44.79), (1806.7, 46.48), (1807.5, 45.75), (1808.8, 46.75), (1809.7, 45.64), (1810.5, 45.99), (1811.4, 45.33),
    (1812.3, 44.25), (1813.1, 44.79), (1814.0, 45.06), (1814.8, 45.42), (1815.7, 46.04), (1816.5, 46.94), (1817.4, 45.82), (1818.2, 46.75),
    (1819.1, 46.88), (1819.9, 47.10), (1820.8, 47.59), (1821.7, 48.31), (1822.5, 48.40), (1823.4, 47.10), (1824.2, 46.50), (1825.1, 46.57),
    (1825.9, 46.71), (1826.8, 46.84), (1827.6, 46.89), (1828.5, 46.37), (1829.4, 47.08), (1830.2, 47.22), (1831.1, 47.20), (1831.9, 47.50),
    (1832.8, 47.31), (1833.6, 47.48), (1834.5, 47.67), (1835.4, 46.87), (1836.2, 47.39), (1837.1, 46.75), (1837.9, 46.22), (1838.8, 45.56),
    (1839.6, 46.44), (1840.5, 46.45), (1841.3, 46.11), (1842.2, 45.91), (1843.1, 45.74), (1843.9, 46.09), (1844.8, 46.21), (1845.6, 46.06),
    (1846.5, 46.82), (1847.3, 45.71), (1848.2, 46.48), (1849.1, 47.10), (1849.9, 47.46), (1850.8, 47.33), (1851.6, 47.19), (1852.5, 47.44),
    (1853.3, 46.52), (1854.2, 47.17), (1855.5, 47.19), (1856.8, 47.17), (1857.6, 46.62), (1858.5, 46.48), (1859.3, 46.35), (1860.2, 46.62),
    (1861.0, 47.02), (1861.9, 46.30), (1863.2, 45.97), (1864.0, 46.22), (1864.9, 46.49), (1865.8, 45.99), (1866.6, 46.11), (1867.5, 46.79),
    (1868.3, 46.30), (1869.2, 45.95), (1870.0, 45.86), (1870.9, 46.02), (1871.7, 46.55), (1872.6, 45.83), (1873.5, 47.26), (1874.3, 47.06),
    (1875.2, 46.84), (1876.0, 46.55), (1876.9, 46.53), (1877.7, 46.22), (1879.0, 45.45), (1879.9, 45.45), (1880.7, 46.28), (1881.6, 46.37),
    (1882.5, 46.53), (1883.3, 47.02), (1884.2, 47.22), (1885.0, 47.59), (1885.9, 48.19), (1886.7, 47.23), (1887.6, 48.63), (1888.5, 48.90),
    (1889.3, 49.01), (1890.2, 48.40), (1891.0, 47.93), (1891.9, 49.30), (1892.7, 48.88), (1893.6, 48.46), (1894.4, 47.86), (1895.3, 47.50),
    (1896.2, 47.17), (1897.0, 47.78), (1897.9, 47.22), (1898.7, 48.21), (1899.6, 47.79), (1900.4, 48.22), (1901.3, 47.95), (1902.2, 48.17),
    (1903.0, 48.57), (1903.9, 47.74), (1904.7, 48.37), (1905.6, 48.66), (1906.4, 48.38), (1907.3, 48.42), (1908.1, 48.68), (1909.0, 48.19),
    (1909.9, 48.53), (1910.7, 49.02), (1911.6, 48.79), (1912.4, 48.65), (1913.3, 48.89), (1914.6, 48.42), (1915.4, 47.59), (1916.3, 47.50),
    (1917.1, 48.07), (1918.0, 47.64), (1918.9, 47.33), (1919.7, 47.44), (1920.6, 47.64), (1921.9, 46.55), (1922.7, 47.31), (1923.6, 48.82),
    (1924.8, 47.94), (1925.7, 48.11), (1926.6, 48.11), (1927.4, 47.93), (1928.3, 48.15), (1929.1, 48.88), (1930.0, 47.86), (1930.8, 48.19),
    (1931.7, 47.37), (1932.6, 47.63), (1933.4, 47.35), (1934.3, 47.02), (1935.1, 46.66), (1936.0, 46.44), (1936.8, 46.75), (1937.7, 46.97),
    (1938.5, 47.15), (1939.4, 47.13), (1940.3, 48.12), (1941.1, 48.15), (1942.0, 47.62), (1942.8, 47.62), (1943.7, 48.06), (1944.5, 48.02),
    (1945.4, 47.66), (1946.3, 47.10), (1947.1, 48.06), (1948.0, 47.55), (1948.8, 47.79), (1949.7, 47.33), (1950.5, 47.24), (1951.4, 47.46),
    (1952.2, 47.73), (1953.1, 48.61), (1954.0, 46.91), (1954.8, 47.55), (1955.7, 47.64), (1956.5, 47.77), (1957.4, 46.99), (1958.2, 45.72),
    (1959.1, 46.47), (1960.0, 45.97), (1960.4, 45.31), (1961.2, 46.28), (1962.1, 46.99), (1963.0, 47.53), (1963.8, 46.84), (1964.7, 47.76),
    (1965.5, 47.22), (1966.4, 47.37), (1967.2, 47.19), (1968.1, 47.13), (1969.0, 46.79), (1969.8, 46.54), (1970.7, 46.06), (1971.5, 46.61),
    (1972.4, 46.64), (1973.2, 46.64), (1974.1, 46.79), (1974.9, 47.06), (1975.8, 47.38), (1976.7, 47.37), (1977.9, 47.17), (1978.8, 47.57),
    (1979.7, 47.22), (1980.5, 47.75), (1981.4, 47.88), (1982.2, 47.42), (1983.1, 47.77), (1984.4, 48.08), (1985.2, 48.06), (1986.1, 47.79),
    (1986.9, 47.95), (1987.8, 48.24), (1988.7, 47.90), (1989.9, 48.25), (1990.8, 48.67), (1991.6, 48.08), (1992.0, 47.91),
]

samples = (seg_jul31_aug10 + seg_aug10_aug21 + seg_aug21_aug31 + seg_aug31_sep11
           + seg_sep11_sep21 + seg_sep21_oct02 + seg_oct02_oct12 + seg_oct12_oct22)
hours = np.array([s[0] for s in samples])
dbar = np.array([s[1] for s in samples])

fig = plt.figure(figsize=(16, 9), dpi=250)
ax = fig.add_axes([0.1298, 0.1098, 0.7752, 0.8164])

ax.plot(hours, dbar, color='#0072BD', linewidth=0.45)

ax.set_xlim(0, span_hours)
ax.set_ylim(y_ticks[0], y_ticks[-1])
ax.set_yticks(y_ticks)
ax.set_xticks(np.linspace(0, span_hours, len(tick_dates)))
labels = ax.set_xticklabels([d + '\n   ' + tick_year for d in tick_dates], linespacing=1.4)
for lab in labels:
    lab.set_multialignment('left')

ax.tick_params(direction='in', length=8.8, width=0.6, colors='#262626', labelsize=5.8)
ax.tick_params(axis='x', pad=2.2)
ax.tick_params(axis='y', pad=1.5)
for side in ['top', 'right']:
    ax.spines[side].set_visible(False)
for side in ['left', 'bottom']:
    ax.spines[side].set_color('#262626')
    ax.spines[side].set_linewidth(0.6)

ax.set_title(title, fontsize=9, fontweight='bold', pad=4)
ax.set_ylabel(y_label, fontsize=11.5, color='#262626', labelpad=3)

fig.savefig('out.png', dpi=250)
